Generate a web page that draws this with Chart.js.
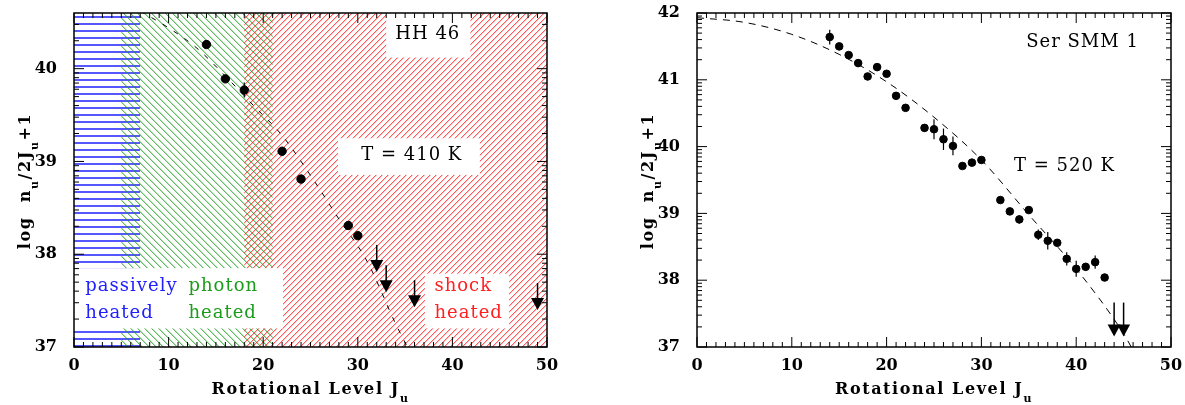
<!DOCTYPE html>
<html>
<head>
<meta charset="utf-8">
<script src="https://cdn.jsdelivr.net/npm/chart.js@4"></script>
<style>
  body { margin: 0; background: #fff; width: 1185px; height: 405px; position: relative; overflow: hidden; }
  .panel { position: absolute; top: 0; height: 405px; }
  #left { left: 0; width: 560px; }
  #right { left: 600px; width: 585px; }
</style>
</head>
<body>
<div class="panel" id="left"><canvas id="hhCanvas" width="560" height="405"></canvas></div>
<div class="panel" id="right"><canvas id="smmCanvas" width="585" height="405"></canvas></div>
<script>
Chart.defaults.font.family = '"DejaVu Serif", serif';
Chart.defaults.color = "#000";

// HH 46 (left panel)
const hhJ = [14, 16, 18, 22, 24, 29, 30];
const hhLogN = [40.26, 39.89, 39.77, 39.11, 38.81, 38.31, 38.2];
const hhErr = [0, 0, 0.08, 0, 0, 0, 0];
const hhLimJ = [32, 33, 36, 49];
const hhLimLogN = [38.1, 37.88, 37.72, 37.69];
const hhFitJ = [7, 10, 13, 16, 19, 22, 25, 28, 31, 34, 35.5];
const hhFitLogN = [40.62, 40.44, 40.22, 39.92, 39.6, 39.28, 38.85, 38.38, 37.92, 37.25, 36.95];

// Ser SMM 1 (right panel)
const smmJ = [14, 15, 16, 17, 18, 19, 20, 21, 22, 24, 25, 26, 27, 28, 29, 30,
  32, 33, 34, 35, 36, 37, 38, 39, 40, 41, 42, 43];
const smmLogN = [41.64, 41.5, 41.37, 41.25, 41.05, 41.19, 41.09, 40.76, 40.58,
  40.28, 40.26, 40.11, 40.01, 39.71, 39.76, 39.8, 39.2, 39.03, 38.91, 39.05,
  38.68, 38.59, 38.56, 38.32, 38.17, 38.2, 38.27, 38.04];
const smmErr = [0.11, 0, 0, 0, 0, 0, 0, 0, 0, 0, 0.15, 0.16, 0.14, 0, 0, 0,
  0, 0.05, 0.06, 0, 0.08, 0.13, 0, 0.1, 0.12, 0, 0.1, 0.05];
const smmLimJ = [44, 45];
const smmLimLogN = [37.665, 37.665];
const smmFitJ = [0, 5, 10, 15, 20, 25, 30, 35, 40, 45, 46];
const smmFitLogN = [41.93, 41.86, 41.68, 41.38, 40.97, 40.44, 39.8, 38.98, 38.17, 37.2, 36.95];

const xTicks = [0, 10, 20, 30, 40, 50];
const hhYTicks = [37, 38, 39, 40];
const smmYTicks = [37, 38, 39, 40, 41, 42];

// heating regions on the HH 46 panel, in J
const regionFrom = [0, 5, 18];
const regionTo = [7, 21, 50];

const BLUE = "#2020ff", GREEN = "#1c9c1c", RED = "#ff2020";

function drawRich(ctx, parts, cx, cy, size) {
  const main = "bold " + size + 'px "DejaVu Serif"';
  const sub = "bold " + Math.round(size * 0.7) + 'px "DejaVu Serif"';
  ctx.letterSpacing = "1.6px";
  let total = 0;
  parts.forEach((p) => {
    ctx.font = p.sub ? sub : main;
    total += ctx.measureText(p.t).width;
  });
  let px = cx - total / 2;
  parts.forEach((p) => {
    ctx.font = p.sub ? sub : main;
    ctx.fillText(p.t, px, p.sub ? cy + 8 : cy);
    px += ctx.measureText(p.t).width;
  });
}

function decor(o) {
  return {
    id: "decor",
    beforeDatasetsDraw(chart) {
      const { ctx, chartArea: a, scales: { x, y } } = chart;
      const H = a.bottom - a.top;
      ctx.save();
      (o.hatch || []).forEach((h, i) => {
        const x0 = x.getPixelForValue(regionFrom[i]);
        const x1 = x.getPixelForValue(regionTo[i]);
        ctx.save();
        ctx.beginPath();
        ctx.rect(x0, a.top, x1 - x0, H);
        ctx.clip();
        ctx.strokeStyle = h.color;
        ctx.lineWidth = h.width;
        ctx.beginPath();
        if (h.kind === "h") {
          for (let py = a.top + 4; py < a.bottom; py += h.gap) {
            ctx.moveTo(x0, py);
            ctx.lineTo(x1, py);
          }
        } else {
          for (let px = x0 - H; px < x1 + H; px += h.gap) {
            if (h.kind === "fwd") {
              ctx.moveTo(px, a.bottom);
              ctx.lineTo(px + H, a.top);
            } else {
              ctx.moveTo(px, a.top);
              ctx.lineTo(px + H, a.bottom);
            }
          }
        }
        ctx.stroke();
        ctx.restore();
      });
      ctx.fillStyle = "#fff";
      (o.boxes || []).forEach((b) => {
        const bx0 = x.getPixelForValue(b.x0), bx1 = x.getPixelForValue(b.x1);
        const by0 = y.getPixelForValue(b.y1), by1 = y.getPixelForValue(b.y0);
        ctx.fillRect(bx0, by0, bx1 - bx0, by1 - by0);
      });
      ctx.font = '18px "DejaVu Serif"';
      ctx.letterSpacing = "1px";
      ctx.textBaseline = "middle";
      (o.texts || []).forEach((t) => {
        ctx.fillStyle = t.color || "#000";
        ctx.textAlign = t.align || "left";
        ctx.fillText(t.t, x.getPixelForValue(t.x), y.getPixelForValue(t.y));
      });
      ctx.restore();
    },
    afterDatasetsDraw(chart) {
      const { ctx, scales: { y } } = chart;
      ctx.save();
      ctx.strokeStyle = "#000";
      ctx.fillStyle = "#000";
      ctx.lineWidth = 1.2;
      // error bars
      chart.getDatasetMeta(0).data.forEach((pt, i) => {
        if (!o.err[i]) return;
        ctx.beginPath();
        ctx.moveTo(pt.x, y.getPixelForValue(o.logN[i] + o.err[i]));
        ctx.lineTo(pt.x, y.getPixelForValue(o.logN[i] - o.err[i]));
        ctx.stroke();
      });
      // upper limits
      ctx.lineWidth = 1.5;
      chart.getDatasetMeta(1).data.forEach((pt) => {
        const tip = pt.y + o.arrowLen;
        ctx.beginPath();
        ctx.moveTo(pt.x, pt.y);
        ctx.lineTo(pt.x, tip - 10);
        ctx.stroke();
        ctx.beginPath();
        ctx.moveTo(pt.x - 6.5, tip - 12);
        ctx.lineTo(pt.x + 6.5, tip - 12);
        ctx.lineTo(pt.x, tip);
        ctx.closePath();
        ctx.fill();
      });
      ctx.restore();
    },
    afterDraw(chart) {
      const { ctx, chartArea: a, scales: { x, y } } = chart;
      ctx.save();
      ctx.strokeStyle = "#000";
      ctx.lineWidth = 1;
      ctx.beginPath();
      for (let v = 0; v <= 50; v++) {
        const px = x.getPixelForValue(v);
        const len = v % 10 === 0 ? 10 : 5;
        ctx.moveTo(px, a.bottom);
        ctx.lineTo(px, a.bottom - len);
        ctx.moveTo(px, a.top);
        ctx.lineTo(px, a.top + len);
      }
      for (let n = 36; n <= 42; n++) {
        for (let k = 1; k <= 9; k++) {
          const v = n + Math.log10(k);
          if (v < y.min || v > y.max) continue;
          const py = y.getPixelForValue(v);
          const len = k === 1 ? 10 : 5;
          ctx.moveTo(a.left, py);
          ctx.lineTo(a.left + len, py);
          ctx.moveTo(a.right, py);
          ctx.lineTo(a.right - len, py);
        }
      }
      ctx.stroke();
      ctx.lineWidth = 1.5;
      ctx.strokeRect(a.left, a.top, a.right - a.left, a.bottom - a.top);

      ctx.fillStyle = "#000";
      ctx.textAlign = "left";
      ctx.textBaseline = "alphabetic";
      drawRich(ctx, [{ t: "Rotational Level J" }, { t: "u", sub: true }],
        (a.left + a.right) / 2, 394, 16);
      ctx.translate(o.yTitleX, 181);
      ctx.rotate(-Math.PI / 2);
      drawRich(ctx, [
        { t: "log  n" }, { t: "u", sub: true }, { t: "/2J" }, { t: "u", sub: true }, { t: "+1" },
      ], 0, 0, 16);
      ctx.restore();
    },
  };
}

function makeChart(id, o) {
  const datasets = [
    {
      label: "data",
      data: o.J.map((j, i) => ({ x: j, y: o.logN[i] })),
      pointRadius: o.dot,
      pointHoverRadius: o.dot,
      backgroundColor: "#000",
      borderColor: "#000",
      order: 0,
    },
    {
      label: "limits",
      data: o.limJ.map((j, i) => ({ x: j, y: o.limLogN[i] })),
      pointRadius: 0,
      order: 1,
    },
    {
      type: "line",
      label: "fit",
      data: o.fitJ.map((j, i) => ({ x: j, y: o.fitLogN[i] })),
      borderColor: "#000",
      borderWidth: 1,
      borderDash: o.dash,
      pointRadius: 0,
      tension: 0.4,
      cubicInterpolationMode: "monotone",
      fill: false,
      order: 2,
    },
  ];
  const tickFont = { size: 16, weight: "bold" };
  return new Chart(document.getElementById(id), {
    type: "scatter",
    data: { datasets: datasets },
    options: {
      responsive: false,
      animation: false,
      devicePixelRatio: 1,
      events: [],
      layout: { padding: { top: 13, right: o.padRight, left: 0, bottom: 0 } },
      plugins: { legend: { display: false }, tooltip: { enabled: false } },
      scales: {
        x: {
          type: "linear",
          min: 0,
          max: 50,
          afterBuildTicks: (s) => { s.ticks = xTicks.map((v) => ({ value: v })); },
          afterFit: (s) => { s.height = 58; s.paddingLeft = 0; s.paddingRight = 0; },
          grid: { display: false },
          border: { display: false },
          ticks: { padding: 1, font: tickFont, maxRotation: 0 },
        },
        y: {
          type: "linear",
          min: 37,
          max: o.yMax,
          afterBuildTicks: (s) => { s.ticks = o.yTicks.map((v) => ({ value: v })); },
          afterFit: (s) => { s.width = o.yWidth; s.paddingTop = 0; s.paddingBottom = 0; },
          grid: { display: false },
          border: { display: false },
          ticks: { padding: 9, font: tickFont },
        },
      },
    },
    plugins: [decor(o)],
  });
}

makeChart("hhCanvas", {
  J: hhJ, logN: hhLogN, err: hhErr,
  limJ: hhLimJ, limLogN: hhLimLogN,
  fitJ: hhFitJ, fitLogN: hhFitLogN,
  yMax: 40.6, yTicks: hhYTicks,
  yWidth: 74, padRight: 13, yTitleX: 30,
  dot: 4.2, dash: [5, 8], arrowLen: 27,
  hatch: [
    { kind: "h", color: BLUE, gap: 7, width: 1.3 },
    { kind: "back", color: GREEN, gap: 7, width: 1 },
    { kind: "fwd", color: RED, gap: 6, width: 1 },
  ],
  boxes: [
    { x0: 33, x1: 41.9, y0: 40.12, y1: 40.6 },
    { x0: 27.9, x1: 42.9, y0: 38.855, y1: 39.25 },
    { x0: 0, x1: 22.1, y0: 37.2, y1: 37.85 },
    { x0: 37.1, x1: 46, y0: 37.2, y1: 37.79 },
  ],
  texts: [
    { t: "HH 46", x: 37.4, y: 40.375, align: "center" },
    { t: "T = 410 K", x: 35.7, y: 39.07, align: "center" },
    { t: "passively", x: 1.2, y: 37.657, color: BLUE },
    { t: "heated", x: 1.2, y: 37.365, color: BLUE },
    { t: "photon", x: 12.1, y: 37.657, color: GREEN },
    { t: "heated", x: 12.1, y: 37.365, color: GREEN },
    { t: "shock", x: 38.1, y: 37.657, color: RED },
    { t: "heated", x: 38.1, y: 37.365, color: RED },
  ],
});

makeChart("smmCanvas", {
  J: smmJ, logN: smmLogN, err: smmErr,
  limJ: smmLimJ, limLogN: smmLimLogN,
  fitJ: smmFitJ, fitLogN: smmFitLogN,
  yMax: 42, yTicks: smmYTicks,
  yWidth: 97, padRight: 14, yTitleX: 53,
  dot: 3.8, dash: [7, 6], arrowLen: 34,
  texts: [
    { t: "Ser SMM 1", x: 40.67, y: 41.56, align: "center" },
    { t: "T = 520 K", x: 38.77, y: 39.71, align: "center" },
  ],
});
</script>
</body>
</html>
